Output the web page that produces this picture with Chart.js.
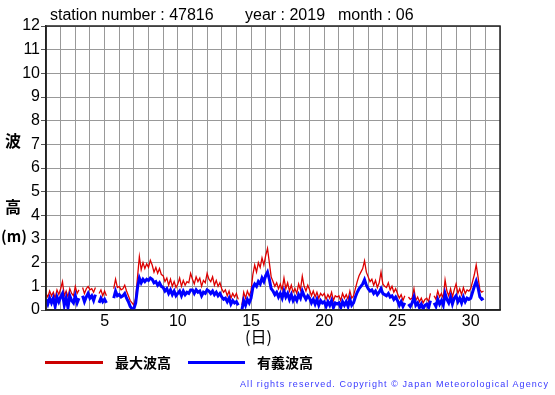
<!DOCTYPE html>
<html><head><meta charset="utf-8">
<script src="https://cdn.jsdelivr.net/npm/chart.js@4"></script>
<style>
html,body{margin:0;padding:0;background:#fff;}
#wrap{position:relative;width:555px;height:395px;overflow:hidden;background:#fff;}
canvas{position:absolute;left:0;top:0;}
.t{position:absolute;white-space:nowrap;line-height:1;color:#000;}
.num{font-family:'Liberation Sans',Arial,sans-serif;}
.cjk{font-family:'Noto Sans CJK JP',sans-serif;font-weight:bold;}
.ln{position:absolute;height:3px;}
</style></head><body>
<div id="wrap">
<canvas id="c" width="555" height="395"></canvas>
<div class="t num" style="left:50px;top:7px;font-size:16px;">station number : 47816</div>
<div class="t num" style="left:245px;top:7px;font-size:16px;">year : 2019</div>
<div class="t num" style="left:338px;top:7px;font-size:16px;">month : 06</div>
<div class="t cjk" style="left:5px;top:132px;font-size:16px;">波</div>
<div class="t cjk" style="left:5px;top:198px;font-size:16px;">高</div>
<div class="t cjk" style="left:1px;top:228px;font-size:15px;">(m)</div>
<div class="t cjk" style="left:245px;top:328px;font-size:16px;font-weight:normal;">(日)</div>
<div class="ln" style="left:45px;top:361px;width:58px;background:#cc0000;"></div>
<div class="t cjk" style="left:115px;top:355px;font-size:14px;">最大波高</div>
<div class="ln" style="left:188px;top:361px;width:57px;background:#0000ff;"></div>
<div class="t cjk" style="left:257px;top:355px;font-size:14px;">有義波高</div>
<div class="t num" style="left:240px;top:380px;font-size:9px;letter-spacing:1.07px;color:#3838ff;">All rights reserved. Copyright © Japan Meteorological Agency</div>
</div>
<script>
// Days of June 2019 and the 3-hourly sample hours
const days = [1,2,3,4,5,6,7,8,9,10,11,12,13,14,15,16,17,18,19,20,21,22,23,24,25,26,27,28,29,30];
const hours = [0,3,6,9,12,15,18,21];
const xTickLabels = [5,10,15,20,25,30];
const yTickLabels = [0,1,2,3,4,5,6,7,8,9,10,11,12];

// 最大波高 (maximum wave height, m), 8 values per day
const maxWave = [
0.7,0.55,0.8,0.6,0.75,0.5,0.85,0.65,
0.9,1.2,0.6,0.8,0.55,0.9,0.7,0.6,
1.0,0.7,0.85,null,0.95,0.7,0.9,1.0,
0.85,0.9,0.75,0.95,null,0.7,0.85,0.6,
0.8,0.6,null,null,null,0.9,1.3,0.95,
1.0,0.85,0.9,1.05,0.8,0.6,0.4,0.3,
0.2,0.5,1.4,2.25,1.7,2.0,1.75,1.95,
1.8,2.1,1.9,1.6,1.8,1.55,1.75,1.5,
1.45,1.2,1.35,1.05,1.3,1.0,1.2,0.95,
1.1,1.35,1.0,1.25,1.05,1.2,1.15,1.55,
1.3,1.1,1.4,1.2,1.35,1.0,1.25,1.15,
1.55,1.3,1.2,1.4,1.05,1.25,1.0,1.15,
0.9,0.75,0.85,0.6,0.8,0.5,0.7,0.55,
0.7,0.45,null,0.2,0.75,0.5,0.8,0.6,
0.8,1.5,1.9,1.6,2.0,1.8,2.2,1.9,
2.3,2.6,2.0,1.4,1.2,1.0,1.15,0.9,
1.1,0.85,1.35,0.9,1.15,0.8,1.05,0.75,
0.9,0.7,1.1,0.85,1.43,1.0,0.8,1.05,
0.85,0.6,0.8,0.55,0.75,0.5,0.7,0.6,
0.7,0.45,0.65,0.5,0.75,0.4,0.6,0.55,
0.6,0.4,0.7,0.5,0.65,0.45,0.8,0.5,
0.6,0.9,1.2,1.45,1.6,1.75,2.08,1.6,
1.4,1.2,1.3,1.05,1.25,0.95,1.15,1.6,
1.1,1.0,0.95,1.15,0.85,1.0,0.75,0.9,
0.7,0.5,0.65,0.4,0.6,null,0.55,0.45,
0.5,0.9,0.4,0.55,0.35,0.5,0.3,0.45,
0.5,0.35,0.7,null,0.6,0.45,0.8,0.55,
0.7,0.5,1.27,0.8,0.6,0.9,0.55,0.85,
1.1,0.7,0.9,0.65,0.95,0.7,0.85,0.8,
0.9,1.2,1.5,1.91,1.4,0.85,0.75,0.8
];
// 有義波高 (significant wave height, m), 8 values per day
const sigWave = [
0.45,0.25,0.5,0.3,0.5,0.15,0.55,0.35,
0.55,0.7,0.2,0.5,0.1,0.6,0.4,0.3,
0.6,0.3,0.5,null,0.6,0.35,0.55,0.7,
0.5,0.6,0.4,0.65,null,0.3,0.5,0.35,
0.45,0.3,null,null,null,0.5,0.8,0.6,
0.65,0.55,0.6,0.7,0.5,0.35,0.15,0.05,
0.05,0.3,0.95,1.35,1.15,1.3,1.2,1.3,
1.25,1.35,1.3,1.15,1.2,1.05,1.15,1.0,
0.95,0.8,0.9,0.7,0.85,0.65,0.8,0.6,
0.7,0.8,0.6,0.8,0.65,0.75,0.7,0.85,
0.85,0.7,0.85,0.75,0.8,0.6,0.75,0.7,
0.85,0.8,0.7,0.8,0.65,0.75,0.6,0.7,
0.55,0.45,0.5,0.35,0.5,0.25,0.4,0.3,
0.35,0.2,null,0.0,0.4,0.2,0.45,0.3,
0.5,0.95,1.1,1.0,1.2,1.1,1.35,1.2,
1.45,1.6,1.3,0.9,0.8,0.65,0.75,0.55,
0.7,0.5,0.8,0.55,0.7,0.45,0.65,0.4,
0.55,0.4,0.65,0.5,0.8,0.6,0.45,0.6,
0.5,0.3,0.45,0.25,0.45,0.2,0.4,0.3,
0.35,0.15,0.35,0.2,0.4,0.1,0.3,0.25,
0.3,0.1,0.35,0.2,0.35,0.15,0.45,0.2,
0.3,0.55,0.75,0.9,1.0,1.1,1.28,1.05,
0.9,0.8,0.85,0.7,0.8,0.65,0.75,0.9,
0.7,0.65,0.6,0.7,0.55,0.6,0.45,0.55,
0.4,0.2,0.35,0.15,0.3,null,0.25,0.15,
0.3,0.55,0.2,0.3,0.1,0.25,0.05,0.2,
0.25,0.1,0.4,null,0.3,0.15,0.45,0.25,
0.4,0.2,0.7,0.45,0.3,0.55,0.25,0.5,
0.6,0.35,0.5,0.3,0.55,0.35,0.5,0.45,
0.5,0.75,1.0,1.22,0.95,0.55,0.45,0.5
];

function toPoints(vals){
  const pts = [];
  days.forEach((d, di) => {
    hours.forEach((h, hi) => {
      pts.push({x: d + h / 24, y: vals[di * hours.length + hi]});
    });
  });
  return pts;
}

const frame = {
  id: 'frame',
  afterDraw(chart){
    const {ctx, chartArea: a} = chart;
    ctx.save();
    ctx.strokeStyle = '#222';
    ctx.lineWidth = 1.5;
    ctx.strokeRect(a.left, a.top, a.right - a.left, a.bottom - a.top);
    ctx.restore();
  }
};

new Chart(document.getElementById('c'), {
  type: 'line',
  data: {
    datasets: [
      {label: '最大波高', data: toPoints(maxWave), borderColor: '#dd0000', borderWidth: 1.3, pointRadius: 0, spanGaps: false, order: 2},
      {label: '有義波高', data: toPoints(sigWave), borderColor: '#0000ff', borderWidth: 3, pointRadius: 0, spanGaps: false, order: 1}
    ]
  },
  options: {
    responsive: false,
    animation: false,
    events: [],
    layout: {padding: {left: 0, top: 26, right: 55, bottom: 57}},
    plugins: {legend: {display: false}, title: {display: false}, tooltip: {enabled: false}},
    scales: {
      x: {
        type: 'linear', min: 1, max: 32,
        afterFit(s){ s.height = 28; },
        afterBuildTicks(s){ s.ticks = []; for (let v = 1; v <= 32; v++) s.ticks.push({value: v}); },
        ticks: {
          autoSkip: false, padding: 2, color: '#000', maxRotation: 0, minRotation: 0,
          font: {family: "'Liberation Sans', Arial, sans-serif", size: 16},
          callback: v => xTickLabels.includes(v) ? String(v) : ''
        },
        grid: {color: '#999', lineWidth: 1, drawTicks: false},
        border: {color: '#222', width: 1.5}
      },
      y: {
        min: 0, max: 12,
        afterFit(s){ s.width = 46; },
        afterBuildTicks(s){ s.ticks = yTickLabels.map(v => ({value: v})); },
        ticks: {
          autoSkip: false, padding: 1, color: '#000',
          font: {family: "'Liberation Sans', Arial, sans-serif", size: 16},
          callback: v => String(v)
        },
        grid: {color: '#999', lineWidth: 1, tickLength: 5, tickColor: '#555'},
        border: {color: '#222', width: 1.5}
      }
    }
  },
  plugins: [frame]
});
</script>
</body></html>
